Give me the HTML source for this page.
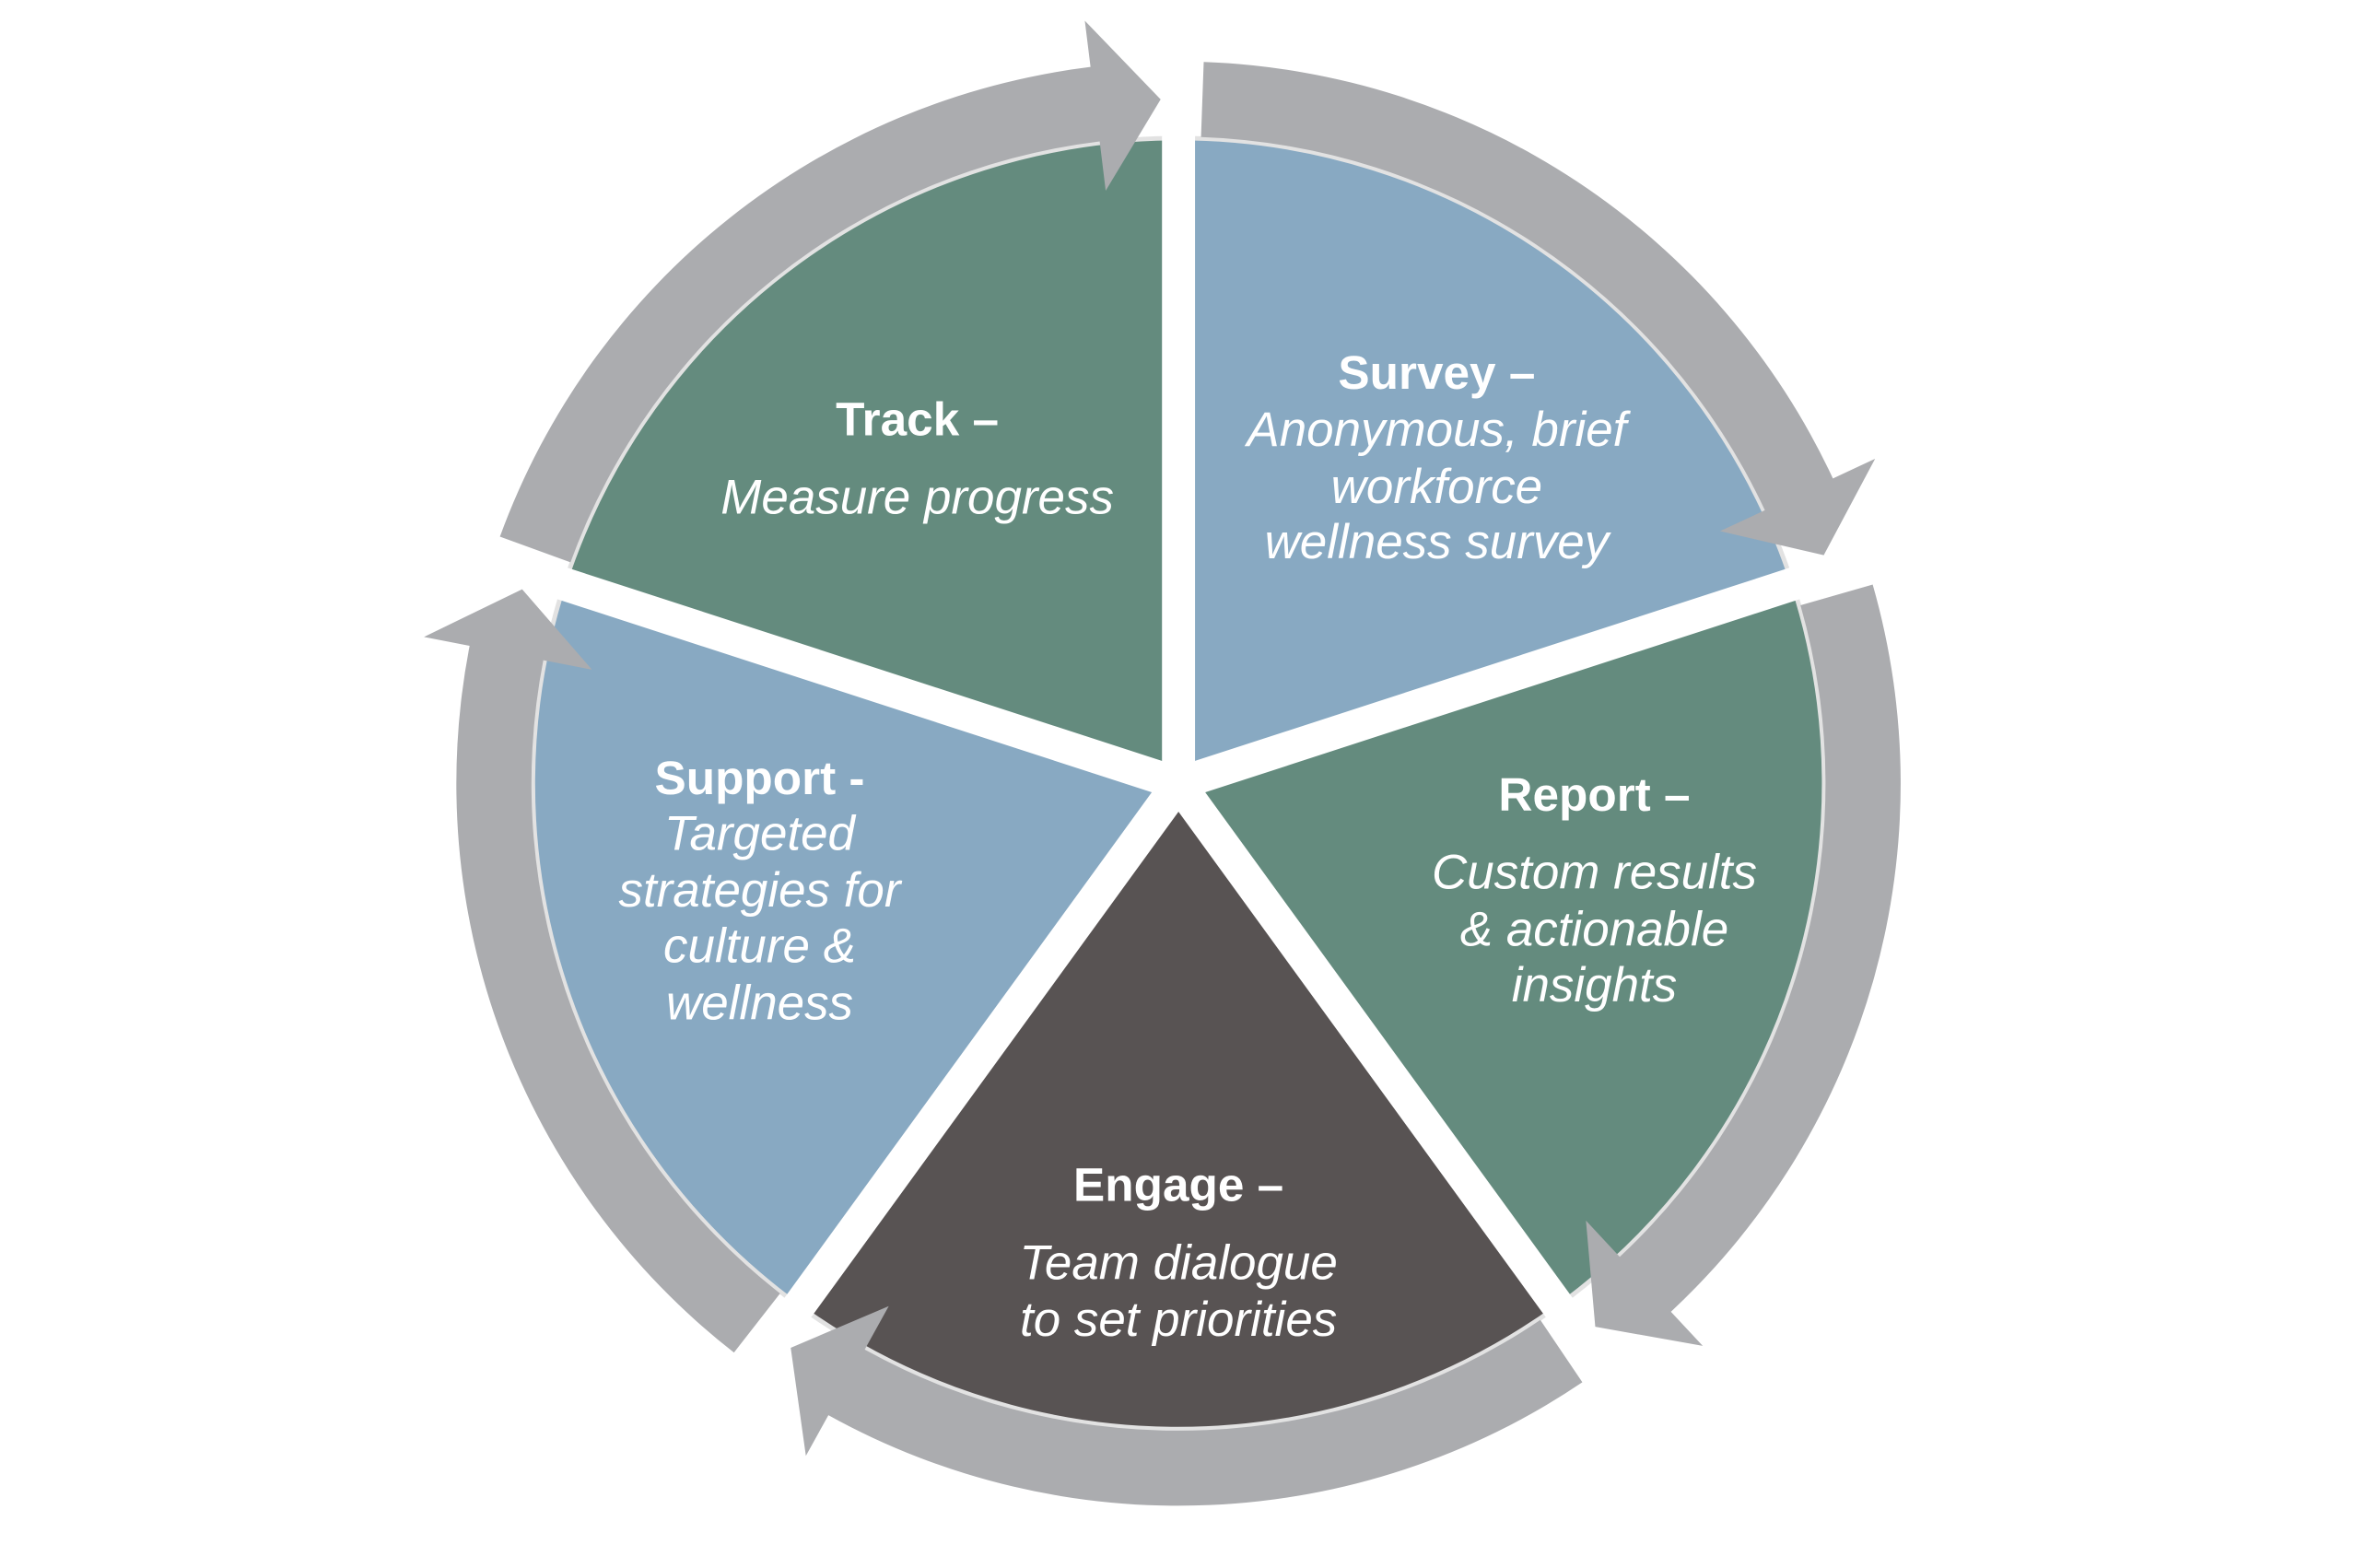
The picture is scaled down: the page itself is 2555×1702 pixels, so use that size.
<!DOCTYPE html>
<html><head><meta charset="utf-8"><style>
html,body{margin:0;padding:0;background:#fff;width:2555px;height:1702px;overflow:hidden}
svg{display:block}
text{font-family:"Liberation Sans",sans-serif;fill:#fff;text-anchor:middle}
.b{font-weight:bold;font-size:31.5px}
.i{font-style:italic;font-size:32.5px}
</style></head><body>
<svg id="s" width="2555" height="1702" viewBox="0 0 1568 1044.5" xmlns="http://www.w3.org/2000/svg">
<g id="pie"></g>
<g id="gaps"></g>
<g id="arr"></g>
<text class="b" x="611" y="290">Track –</text>
<text class="i" x="611" y="342">Measure progress</text>
<text class="b" x="957" y="259">Survey –</text>
<text class="i" x="957" y="297">Anonymous, brief</text>
<text class="i" x="957" y="335">workforce</text>
<text class="i" x="957" y="372">wellness survey</text>
<text class="b" x="506" y="529">Support -</text>
<text class="i" x="506" y="566">Targeted</text>
<text class="i" x="506" y="604">strategies for</text>
<text class="i" x="506" y="641">culture &amp;</text>
<text class="i" x="506" y="679">wellness</text>
<text class="b" x="1062" y="540">Report –</text>
<text class="i" x="1062" y="592">Custom results</text>
<text class="i" x="1062" y="630">&amp; actionable</text>
<text class="i" x="1062" y="667">insights</text>
<text class="b" x="785" y="800">Engage –</text>
<text class="i" x="785" y="852">Team dialogue</text>
<text class="i" x="785" y="890">to set priorities</text>
</svg>
<script>
var cx=785,cy=522,NS="http://www.w3.org/2000/svg";
function P(r,a){a=a*Math.PI/180;return [cx+r*Math.sin(a),cy-r*Math.cos(a)];}
function f(p){return p[0].toFixed(1)+","+p[1].toFixed(1);}
function el(g,t,at){var e=document.createElementNS(NS,t);for(var k in at)e.setAttribute(k,at[k]);document.getElementById(g).appendChild(e);}
var cols=["#88a9c2","#648b7e","#585353","#88a9c2","#648b7e"];
for(var k=0;k<5;k++){var a0=72*k,a1=72*(k+1),R=430;
 el("pie","path",{d:"M"+cx+","+cy+" L"+f(P(R,a0))+" A"+R+","+R+" 0 0 1 "+f(P(R,a1))+" Z",fill:cols[k],stroke:"#e2e2e2","stroke-width":3});
 var e=P(560,a0);el("gaps","line",{x1:cx,y1:cy,x2:e[0],y2:e[1],stroke:"#fff","stroke-width":22});
 var ri=431,ro=481,s=a0+2,hb=a1-7,tip=a1-1.5;
 var d="M"+f(P(ro,s))+" A"+ro+","+ro+" 0 0 1 "+f(P(ro,hb))+" L"+f(P(512,hb))+" L"+f(P(456,tip))+" L"+f(P(398,hb))+" L"+f(P(ri,hb))+" A"+ri+","+ri+" 0 0 0 "+f(P(ri,s))+" Z";
 el("arr","path",{d:d,fill:"#abacaf"});
}
</script>
</body></html>
